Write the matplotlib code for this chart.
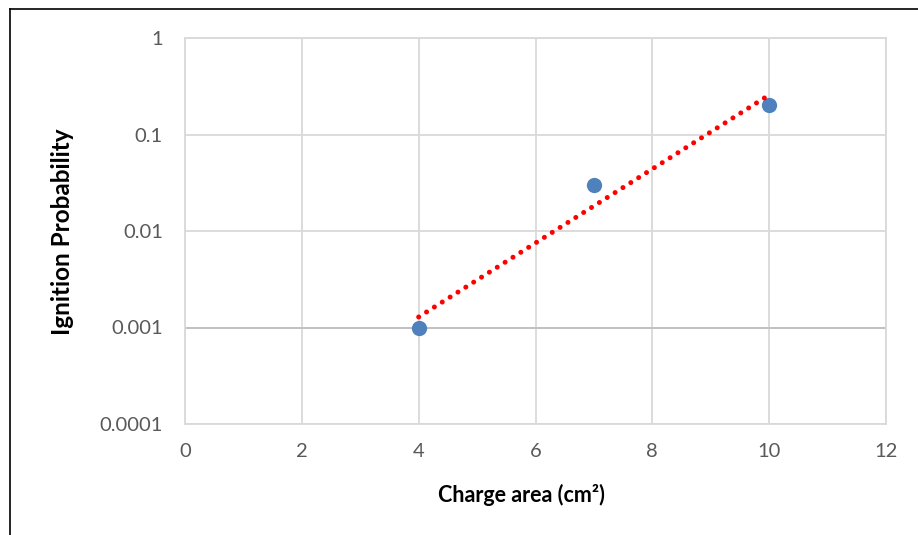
import numpy as np
import matplotlib.pyplot as plt
from matplotlib.lines import Line2D

# data
charge_area = [4, 7, 10]
ignition_prob = [0.001, 0.03, 0.2]
x_ticks = [0, 2, 4, 6, 8, 10, 12]
y_ticks = [0.0001, 0.001, 0.01, 0.1, 1]
y_tick_labels = ['0.0001', '0.001', '0.01', '0.1', '1']

plt.rcParams['font.family'] = ['Lato', 'DejaVu Sans']

fig = plt.figure(figsize=(9.18, 5.35), dpi=100)
ax = fig.add_axes([185 / 918, 1 - 424 / 535, 701 / 918, 386 / 535])

# exponential trendline (fit on log y)
slope, intercept = np.polyfit(charge_area, np.log(ignition_prob), 1)
x_fit = np.linspace(min(charge_area), max(charge_area), 200)
y_fit = np.exp(intercept + slope * x_fit)

ax.axhline(0.001, color='#bfbfbf', linewidth=1.3, zorder=1)
ax.plot(charge_area, ignition_prob, 'o', color='#4f81bd', markersize=11,
        markeredgewidth=0, zorder=3)
ax.plot(x_fit, y_fit, color='red', linewidth=3.6, linestyle=(0, (0.01, 1.85)),
        dash_capstyle='round', zorder=4)

ax.set_yscale('log')
ax.set_xlim(0, 12)
ax.set_ylim(0.0001, 1)
ax.set_xticks(x_ticks)
ax.set_yticks(y_ticks)
ax.set_yticklabels(y_tick_labels)
ax.yaxis.set_minor_locator(plt.NullLocator())
ax.tick_params(length=0, labelsize=14.5, labelcolor='#595959')
ax.tick_params(axis='y', pad=16)
ax.tick_params(axis='x', pad=14)
ax.grid(True, color='#d9d9d9', linewidth=1.3)
ax.set_axisbelow(True)
for s in ax.spines.values():
    s.set_color('#d9d9d9')
    s.set_linewidth(1.3)

fig.text(521 / 918, 1 - 495 / 535, 'Charge area (cm²)', ha='center',
         va='center', fontsize=15.5, fontweight='bold')
fig.text(62 / 918, 1 - 232 / 535, 'Ignition Probability', ha='center', va='center',
         rotation=90, fontsize=17.5, fontweight='bold')

# outer frame (top and left edges visible)
fig.add_artist(Line2D([10 / 918, 1], [1 - 9 / 535, 1 - 9 / 535], color='black', linewidth=1.2))
fig.add_artist(Line2D([10 / 918, 10 / 918], [0, 1 - 9 / 535], color='black', linewidth=1.2))

fig.savefig('out.png', dpi=100)
